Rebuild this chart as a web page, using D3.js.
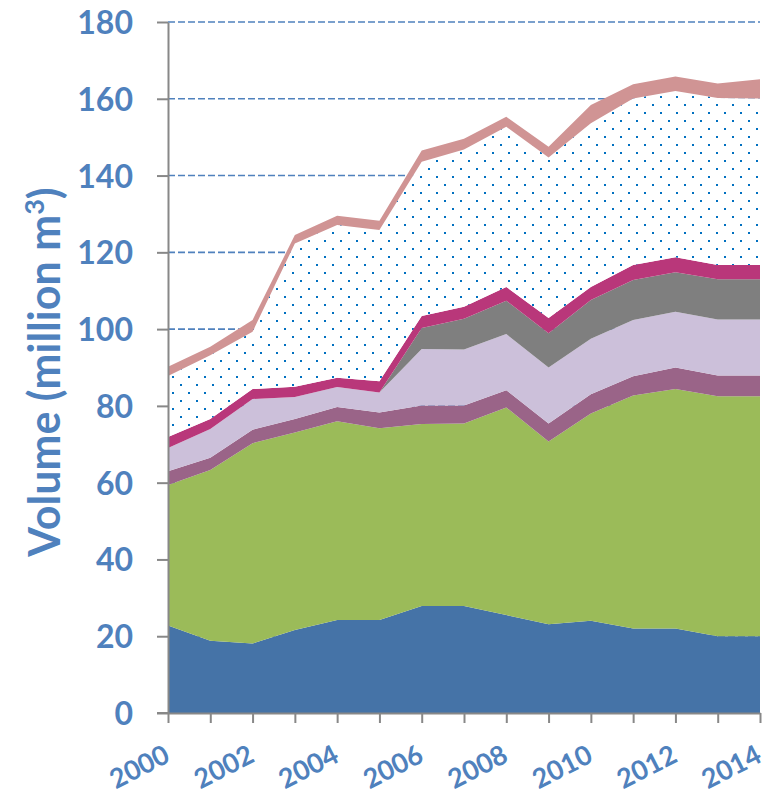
<!DOCTYPE html>
<meta charset="utf-8">
<script src="https://d3js.org/d3.v7.min.js"></script>
<style>
body { margin: 0; background: #fff; }
.tickText { font: bold 32px Lato, sans-serif; fill: #4f81bd; }
.yearText { font: bold 27px Lato, sans-serif; fill: #4f81bd; }
.axisTitle { font: bold 43px Lato, sans-serif; fill: #4f81bd; }
</style>
<div id="chart"></div>
<script>

// years on the x axis
const years = d3.range(2000, 2015);

// layers, bottom to top (million m3)
const layerBlue     = [22.8, 18.8, 18.1, 21.6, 24.2, 24.2, 27.9, 27.9, 25.5, 23.1, 24.0, 22.0, 22.0, 20.0, 20.0];
const layerGreen    = [36.6, 44.5, 52.2, 51.5, 51.8, 50.0, 47.4, 47.5, 54.1, 47.6, 54.0, 60.7, 62.4, 62.5, 62.5];
const layerMauve    = [3.6, 3.2, 3.5, 3.5, 3.7, 4.1, 4.8, 4.7, 4.5, 4.7, 5.0, 5.0, 5.6, 5.4, 5.4];
const layerLavender = [6.0, 7.5, 8.0, 5.7, 5.2, 5.2, 14.7, 14.6, 14.6, 14.6, 14.5, 14.7, 14.5, 14.6, 14.6];
const layerGray     = [0, 0, 0, 0, 0, 0, 5.5, 8.0, 8.7, 8.9, 10.1, 10.4, 10.3, 10.5, 10.5];
const layerMagenta  = [2.9, 2.6, 2.6, 2.7, 2.4, 2.9, 3.1, 3.1, 3.6, 4.0, 3.4, 3.9, 3.9, 3.7, 3.7];
const layerDotted   = [15.9, 16.6, 14.9, 37.3, 39.8, 39.4, 40.2, 41.0, 41.7, 41.8, 42.6, 43.4, 43.3, 43.5, 43.4];
const layerPink     = [2.4, 2.2, 3.1, 2.2, 2.4, 2.4, 2.9, 2.8, 2.6, 2.8, 4.8, 3.7, 3.8, 3.8, 5.0];

const yTicks = [0, 20, 40, 60, 80, 100, 120, 140, 160, 180];

const keys = ["blue", "green", "mauve", "lavender", "gray", "magenta", "dotted", "pink"];
const colors = {
  blue: "#4573a7", green: "#9bbb59", mauve: "#9a6488", lavender: "#ccc0da",
  gray: "#7f7f7f", magenta: "#b9377a", dotted: "url(#dots)", pink: "#d09494"
};

const table = years.map((yr, i) => ({
  year: yr,
  blue: layerBlue[i], green: layerGreen[i], mauve: layerMauve[i],
  lavender: layerLavender[i], gray: layerGray[i], magenta: layerMagenta[i],
  dotted: layerDotted[i], pink: layerPink[i]
}));

const W = 772, H = 795;
const margin = {top: 22, right: 12, bottom: 82, left: 168};
const width = W - margin.left - margin.right,
      height = H - margin.top - margin.bottom;

const svgRoot = d3.select("#chart").append("svg")
  .attr("width", W).attr("height", H);

// dot pattern for the white area
const pat = svgRoot.append("defs").append("pattern")
  .attr("id", "dots")
  .attr("patternUnits", "userSpaceOnUse")
  .attr("width", 16).attr("height", 16);
pat.append("rect").attr("width", 16).attr("height", 16).attr("fill", "#fff");
pat.append("rect").attr("x", 4).attr("y", 2).attr("width", 2).attr("height", 2).attr("fill", "#0070c0");
pat.append("rect").attr("x", 12).attr("y", 10).attr("width", 2).attr("height", 2).attr("fill", "#0070c0");

const svg = svgRoot.append("g")
  .attr("transform", `translate(${margin.left},${margin.top})`);

const x = d3.scaleLinear().domain([2000, 2014]).range([0, width]);
const y = d3.scaleLinear().domain([0, 180]).range([height, 0]);

// dashed gridlines
svg.selectAll(".grid")
  .data(yTicks.filter(d => d > 0))
  .join("line")
  .attr("x1", 0).attr("x2", width)
  .attr("y1", d => y(d)).attr("y2", d => y(d))
  .attr("stroke", "#4f81bd")
  .attr("stroke-width", 1.6)
  .attr("stroke-dasharray", "7,3");

// stacked areas
const stacked = d3.stack().keys(keys)(table);
const area = d3.area()
  .x(d => x(d.data.year))
  .y0(d => y(d[0]))
  .y1(d => y(d[1]));

svg.selectAll(".layer")
  .data(stacked)
  .join("path")
  .attr("d", area)
  .attr("fill", d => colors[d.key]);

// y axis
const yAxis = svg.append("g")
  .call(d3.axisLeft(y).tickValues(yTicks).tickSize(11).tickSizeOuter(0).tickPadding(24));
yAxis.select(".domain").attr("stroke", "#888").attr("stroke-width", 2);
yAxis.selectAll(".tick line").attr("stroke", "#888").attr("stroke-width", 2);
yAxis.selectAll("text").attr("class", "tickText").attr("dy", "0.36em");

// x axis
const xAxis = svg.append("g")
  .attr("transform", `translate(0,${height})`)
  .call(d3.axisBottom(x).tickValues(years).tickSize(10).tickSizeOuter(0)
    .tickFormat(d => d % 2 === 0 ? d : ""));
xAxis.select(".domain").attr("stroke", "#888").attr("stroke-width", 2);
xAxis.selectAll(".tick line").attr("stroke", "#888").attr("stroke-width", 2);
xAxis.selectAll("text")
  .attr("class", "yearText")
  .attr("y", 0).attr("dy", 0)
  .attr("text-anchor", "end")
  .attr("transform", "translate(3,48) rotate(-27)");

// axis line extends left under the 0 tick
svg.append("line")
  .attr("x1", -11).attr("x2", 0)
  .attr("y1", height).attr("y2", height)
  .attr("stroke", "#888").attr("stroke-width", 2);

// y axis title
const title = svgRoot.append("text")
  .attr("class", "axisTitle")
  .attr("text-anchor", "middle")
  .attr("transform", "translate(60,372) rotate(-90)");
title.append("tspan").text("Volume (million m");
title.append("tspan").text("3").attr("font-size", "27px").attr("dy", "-16");
title.append("tspan").text(")").attr("dy", "16");

</script>
